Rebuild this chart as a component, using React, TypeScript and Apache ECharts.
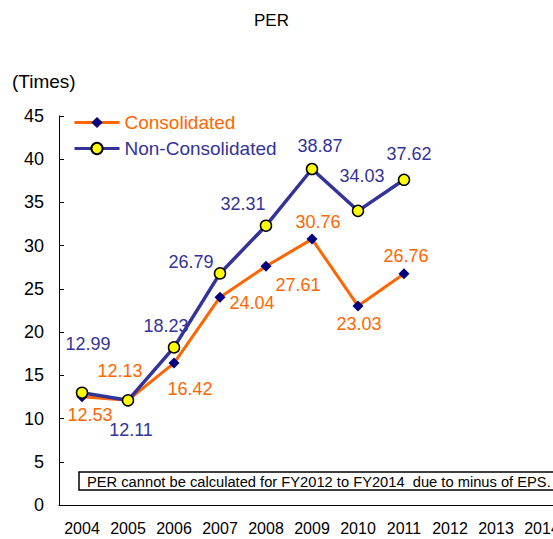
import React, { useEffect, useRef } from "react";
import * as echarts from "echarts";

const years = ["2004", "2005", "2006", "2007", "2008", "2009", "2010", "2011", "2012", "2013", "2014"];
const consolidated = [12.53, 12.13, 16.42, 24.04, 27.61, 30.76, 23.03, 26.76, null, null, null];
const nonConsolidated = [12.99, 12.11, 18.23, 26.79, 32.31, 38.87, 34.03, 37.62, null, null, null];
const consLabelOffsets = [[8, 18], [-8, -29], [16, 26], [32, 6], [32, 19], [6, -17], [1, 18], [2, -18]];
const nonLabelOffsets = [[6, -49], [3, 30], [-8, -21], [-29, -11], [-23, -22], [8, -23], [4, -35], [5, -26]];
const titleText = "PER";
const unitText = "(Times)";
const noteText = "PER cannot be calculated for FY2012 to FY2014  due to minus of EPS.";

const FONT = "'Liberation Sans', Arial, sans-serif";
const ORANGE = "#FF6600";
const BLUE = "#333399";

function buildData(values: (number | null)[], offsets: number[][]) {
  return values.map((v, i) =>
    v == null ? null : { value: v, label: { offset: offsets[i] } }
  );
}

export default function App() {
  const ref = useRef<HTMLDivElement>(null);
  useEffect(() => {
    if (!ref.current) return;
    const chart = echarts.init(ref.current, null, { renderer: "svg" });
    chart.setOption({
      animation: false,
      backgroundColor: "#ffffff",
      textStyle: { fontFamily: FONT },
      grid: { left: 59, top: 116, width: 506, height: 389, containLabel: false },
      legend: {
        orient: "vertical",
        left: 73,
        top: 113,
        padding: 0,
        itemWidth: 45,
        itemHeight: 14,
        itemGap: 7,
        lineStyle: { width: 3 },
        textStyle: { fontSize: 19, fontFamily: FONT, lineHeight: 19, padding: [0, 0, 0, 0] },
        data: [
          { name: "Consolidated", textStyle: { color: ORANGE } },
          { name: "Non-Consolidated", textStyle: { color: BLUE } },
        ],
      },
      xAxis: {
        type: "category",
        data: years,
        boundaryGap: true,
        axisLine: { lineStyle: { color: "#000", width: 1 } },
        axisTick: { inside: true, length: 5, lineStyle: { color: "#000" } },
        axisLabel: { color: "#000", fontSize: 16, fontFamily: FONT, margin: 15, interval: 0 },
      },
      yAxis: {
        type: "value",
        min: 0,
        max: 45,
        interval: 5,
        splitLine: { show: false },
        axisLine: { show: true, lineStyle: { color: "#000", width: 1 } },
        axisTick: { show: true, inside: true, length: 5, lineStyle: { color: "#000" } },
        axisLabel: { color: "#000", fontSize: 18, fontFamily: FONT, margin: 15 },
      },
      series: [
        {
          name: "Consolidated",
          type: "line",
          data: buildData(consolidated, consLabelOffsets),
          lineStyle: { color: ORANGE, width: 3 },
          itemStyle: { color: "#000080" },
          symbol: "diamond",
          symbolSize: 11,
          label: {
            show: true,
            position: "inside",
            color: ORANGE,
            fontSize: 18,
            fontFamily: FONT,
            align: "center",
            verticalAlign: "middle",
          },
          z: 2,
        },
        {
          name: "Non-Consolidated",
          type: "line",
          data: buildData(nonConsolidated, nonLabelOffsets),
          lineStyle: { color: BLUE, width: 3.5 },
          itemStyle: { color: "#FFFF00", borderColor: "#000", borderWidth: 1.5 },
          symbol: "circle",
          symbolSize: 11,
          label: {
            show: true,
            position: "inside",
            color: BLUE,
            fontSize: 18,
            fontFamily: FONT,
            align: "center",
            verticalAlign: "middle",
          },
          z: 3,
        },
      ],
      graphic: [
        {
          type: "text",
          left: 272 - 18,
          top: 12,
          style: { text: titleText, fontSize: 17, fontFamily: FONT, fill: "#000" },
        },
        {
          type: "text",
          left: 12,
          top: 72,
          style: { text: unitText, fontSize: 19, fontFamily: FONT, fill: "#000" },
        },
        {
          type: "rect",
          shape: { x: 79, y: 472, width: 482, height: 18 },
          style: { fill: "#fff", stroke: "#000", lineWidth: 1.5 },
          z: 10,
        },
        {
          type: "text",
          x: 87,
          y: 481.5,
          style: {
            text: noteText,
            fontSize: 14.7,
            fontFamily: FONT,
            fill: "#000",
            verticalAlign: "middle",
          },
          z: 11,
        },
      ],
    });
    return () => chart.dispose();
  }, []);
  return (
    <div style={{ position: "fixed", left: 0, top: 0, width: 553, height: 539, overflow: "hidden", background: "#fff" }}>
      <div ref={ref} style={{ width: 640, height: 539 }} />
    </div>
  );
}
